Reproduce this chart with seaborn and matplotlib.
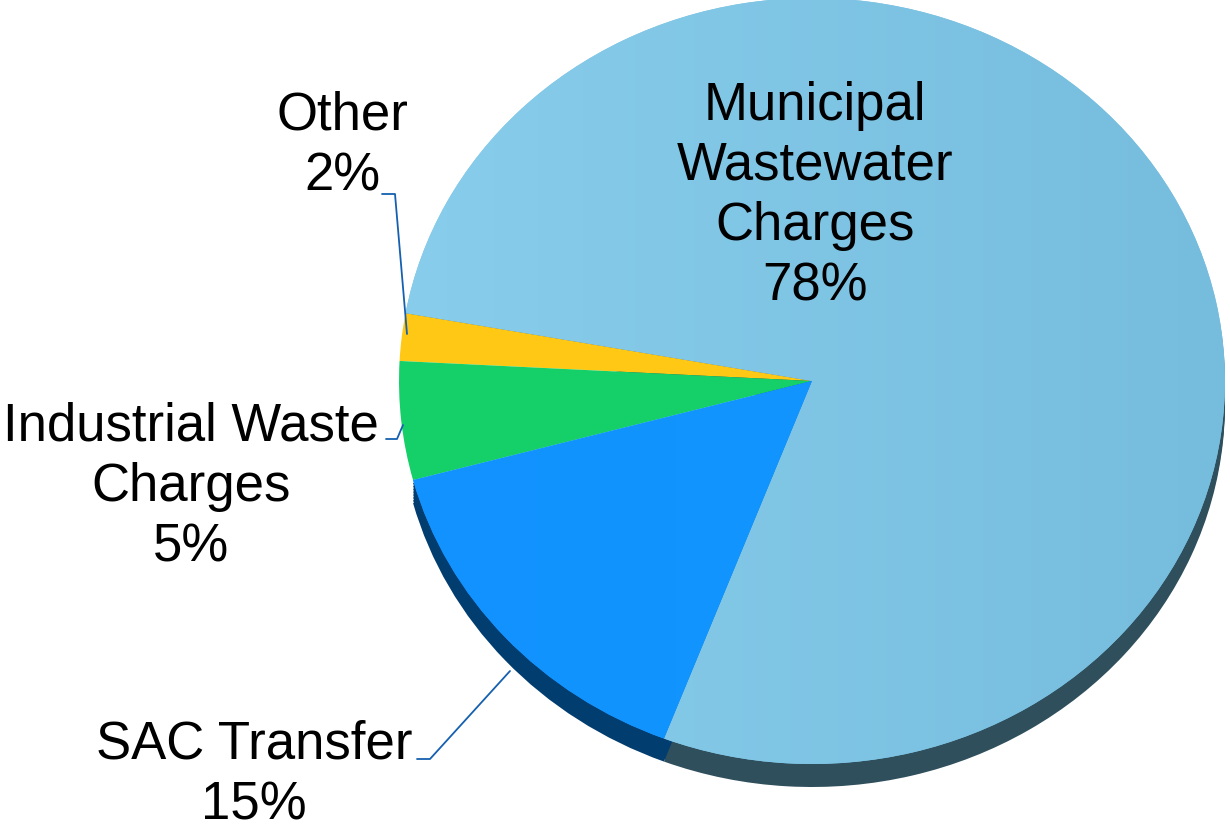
import numpy as np
import matplotlib
matplotlib.use("Agg")
import matplotlib.pyplot as plt
from matplotlib.colors import LinearSegmentedColormap
import seaborn as sns

categories = ["Municipal\nWastewater\nCharges", "Other", "Industrial Waste\nCharges", "SAC Transfer"]
shares = [78, 2, 5, 15]
pct_labels = ["78%", "2%", "5%", "15%"]
top_colors = ["#80C5E5", "#FFC814", "#15D068", "#1396FF"]
side_colors = ["#2F4F5C", "none", "none", "#023D70"]

sns.set_theme(style="white")
plt.rcParams['font.family'] = ['Liberation Sans', 'DejaVu Sans']

W, H = 1230, 829
fig = plt.figure(figsize=(W / 100, H / 100), dpi=100)
ax = fig.add_axes([0, 0, 1, 1])

# pixel geometry of the ellipse
cx, cy, rx, ry = 812, 382, 413, 383
depth = 23 / ry

# side (3D depth)
for k in range(1, 9):
    ax.pie(shares, colors=side_colors, startangle=249, counterclock=True,
           center=(0, -depth * k / 8), wedgeprops=dict(linewidth=0))

wedges, _ = ax.pie(shares, colors=top_colors, startangle=249, counterclock=True,
                   wedgeprops=dict(linewidth=0))

# gentle gradient on the big slices
grad = np.linspace(0, 1, 256).reshape(1, -1)
cmap = LinearSegmentedColormap.from_list("g", ["#88CDEB", "#76BCDD"])
im = ax.imshow(grad, extent=(-1, 1, -1, 1), cmap=cmap, aspect="auto",
               zorder=wedges[0].get_zorder() + 0.1)
im.set_clip_path(wedges[0])
cmap2 = LinearSegmentedColormap.from_list("g2", ["#1192FF", "#1398FC"])
im2 = ax.imshow(grad, extent=(-1, 1, -1, 1), cmap=cmap2, aspect="auto",
                zorder=wedges[3].get_zorder() + 0.1)
im2.set_clip_path(wedges[3])

ax.set_aspect("auto")
ax.set_xlim(-cx / rx, (W - cx) / rx)
ax.set_ylim(-(H - cy) / ry, cy / ry)
ax.axis("off")

def fx(px):
    return px / W

def fy(py):
    return 1 - py / H

fs = 38
ls = 1.26
ax.text(fx(815), fy(196), categories[0] + "\n" + pct_labels[0], transform=fig.transFigure,
        ha="center", va="center", fontsize=fs, linespacing=ls, color="black", zorder=10)
ax.text(fx(342), fy(146), categories[1] + "\n" + pct_labels[1], transform=fig.transFigure,
        ha="center", va="center", fontsize=fs, linespacing=ls, color="black", zorder=10)
ax.text(fx(191), fy(487), categories[2] + "\n" + pct_labels[2], transform=fig.transFigure,
        ha="center", va="center", fontsize=fs, linespacing=ls, color="black", zorder=10)
ax.text(fx(254), fy(775), categories[3] + "\n" + pct_labels[3], transform=fig.transFigure,
        ha="center", va="center", fontsize=fs, linespacing=ls, color="black", zorder=10)

lc = "#1560B0"
for xs, ys in [([382, 395, 407], [195, 195, 335]),
               ([386, 397, 403], [440, 440, 426]),
               ([417, 430, 510], [760, 760, 672])]:
    ax.plot([fx(v) for v in xs], [fy(v) for v in ys], transform=fig.transFigure,
            color=lc, lw=1.3, zorder=11)

fig.savefig("out.png", dpi=100)
